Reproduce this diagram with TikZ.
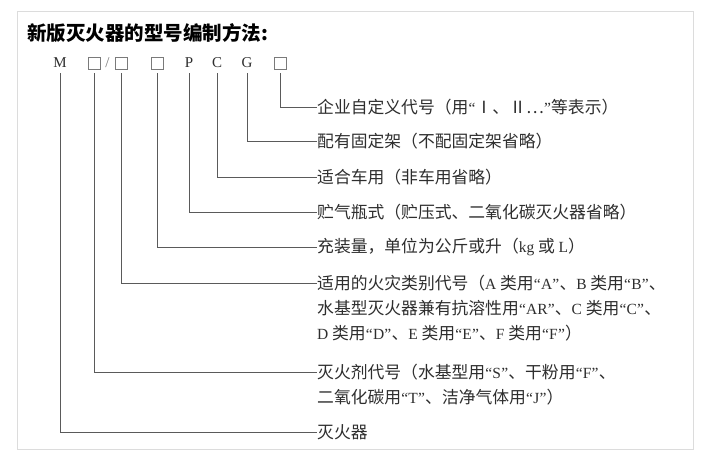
\documentclass[tikz,border=0pt]{standalone}
\usepackage{fontspec}
\setmainfont{Liberation Serif}
\newfontfamily\cjk{Noto Sans CJK SC}
\newfontfamily\latf{Liberation Serif}
\newcommand{\lat}[1]{{\latf\fontsize{15.5}{15.5}\selectfont #1}}
\newcommand{\ql}{\hspace{0.2pt}{\latf\fontsize{15.5}{15.5}\selectfont “}\hspace{0.2pt}}
\newcommand{\qr}{\hspace{0.2pt}{\latf\fontsize{15.5}{15.5}\selectfont ”}\hspace{0.2pt}}
\definecolor{txtc}{HTML}{2E2E2E}
\definecolor{lnc}{HTML}{5A5A5A}
\definecolor{framec}{HTML}{DCDCDC}
\definecolor{boxc}{HTML}{7A7A7A}
\tikzset{
  codeletter/.style={inner sep=0pt, minimum size=12pt, font=\latf\fontsize{15}{15}\selectfont, text=txtc},
  codebox/.style={draw=boxc, line width=0.6pt, inner sep=0pt, minimum size=12pt},
  desc/.style={anchor=west, inner sep=0pt, font=\cjk\fontsize{16.8}{16.8}\selectfont, text=txtc},
  conn/.style={draw=lnc, line width=0.8pt, shorten <=4pt},
}
\begin{document}
\begin{tikzpicture}[x=1pt,y=-1pt]
\useasboundingbox (0,0) rectangle (708,462);
\fill[white] (0,0) rectangle (708,462);
\draw[framec, line width=1pt] (17,12) rectangle (693,449);
\node[anchor=west, inner sep=0pt, font=\cjk\bfseries\fontsize{19.5}{19.5}\selectfont] (title) at (27,33) {新版灭火器的型号编制方法:};
% code row
\node[codeletter] (m) at (60,63) {M};
\node[codebox] (b1) at (94,63) {};
\node[codeletter, text=boxc] (sl) at (107.5,63) {/};
\node[codebox] (b2) at (121,63) {};
\node[codebox] (b3) at (157,63) {};
\node[codeletter] (p) at (189,63) {P};
\node[codeletter] (c) at (217,63) {C};
\node[codeletter] (g) at (247,63) {G};
\node[codebox] (b4) at (280,63) {};
% descriptions
\node[desc] (t1) at (317,107) {企业自定义代号（用\ql Ⅰ、Ⅱ…\qr 等表示）};
\node[desc] (t2) at (317,141) {配有固定架（不配固定架省略）};
\node[desc] (t3) at (317,177) {适合车用（非车用省略）};
\node[desc] (t4) at (317,212) {贮气瓶式（贮压式、二氧化碳灭火器省略）};
\node[desc] (t5) at (317,247) {充装量，单位为公斤或升（\lat{kg} 或 \lat{L}）};
\node[desc] (t6) at (317,283) {适用的火灾类别代号（\lat{A} 类用\ql\lat{A}\qr 、\lat{B} 类用\ql\lat{B}\qr 、};
\node[desc] (t6b) at (317,308) {水基型灭火器兼有抗溶性用\ql\lat{AR}\qr 、\lat{C} 类用\ql\lat{C}\qr 、};
\node[desc] (t6c) at (317,333) {\lat{D} 类用\ql\lat{D}\qr 、\lat{E} 类用\ql\lat{E}\qr 、\lat{F} 类用\ql\lat{F}\qr ）};
\node[desc] (t7) at (317,372) {灭火剂代号（水基型用\ql\lat{S}\qr 、干粉用\ql\lat{F}\qr 、};
\node[desc] (t7b) at (317,397) {二氧化碳用\ql\lat{T}\qr 、洁净气体用\ql\lat{J}\qr ）};
\node[desc] (t8) at (317,432) {灭火器};
% connectors
\draw[conn] (b4.south) |- (t1.west);
\draw[conn] (g.south) |- (t2.west);
\draw[conn] (c.south) |- (t3.west);
\draw[conn] (p.south) |- (t4.west);
\draw[conn] (b3.south) |- (t5.west);
\draw[conn] (b2.south) |- (t6.west);
\draw[conn] (b1.south) |- (t7.west);
\draw[conn] (m.south) |- (t8.west);
\end{tikzpicture}
\end{document}
